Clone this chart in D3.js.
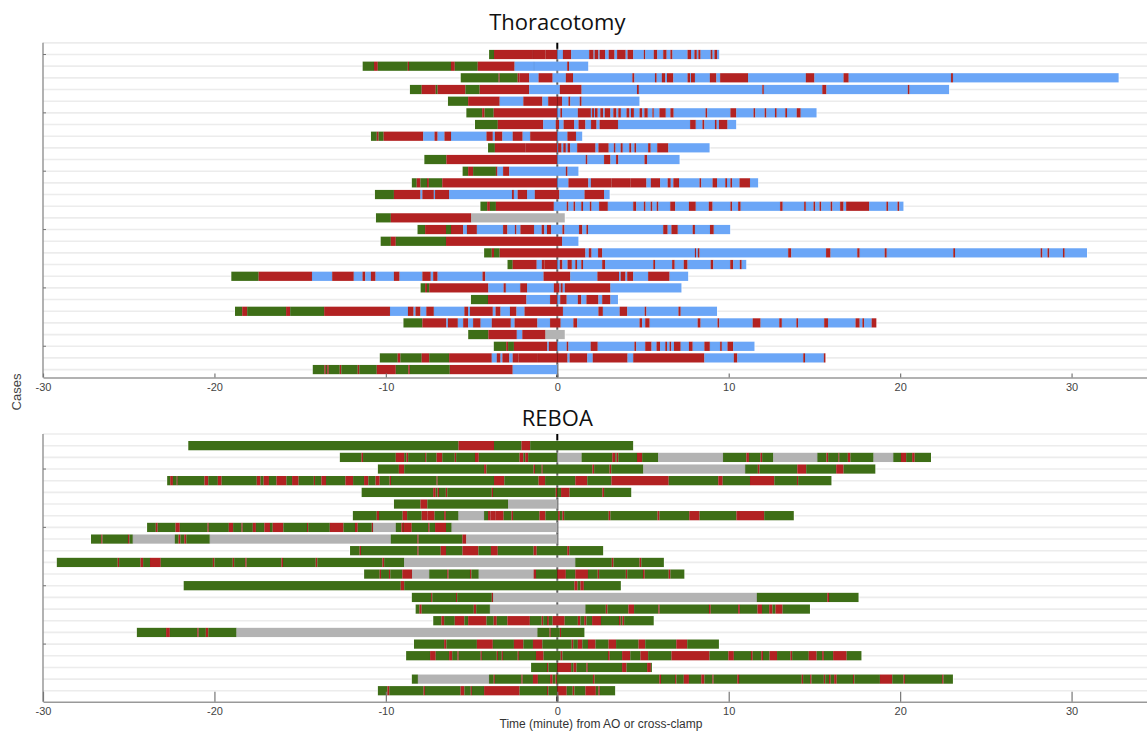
<!DOCTYPE html>
<html>
<head>
<meta charset="utf-8">
<title>Thoracotomy vs REBOA timeline</title>
<script src="https://d3js.org/d3.v7.min.js"></script>
<style>
  html, body { margin: 0; padding: 0; background: #fff; }
  svg { display: block; }
</style>
</head>
<body>
<script>

// phase codes: G = green, R = red, B = blue, S = grey
var phaseColors = { G: "#3e6e17", R: "#b22222", B: "#6ba6f7", S: "#b3b3b3" };

var xTicks = [-30, -20, -10, 0, 10, 20, 30];

// each case: [start, [phase, end], [phase, end], ...]  (minutes from AO / cross-clamp)
var thoracotomyCases = [
  [-3.98, ["G",-3.69],["R",-1.42],["R",-0.68],["R",0],["B",0.33],["R",0.81],["B",1.86],["R",2.12],["B",2.18],["R",2.4],["B",2.47],["R",2.79],["B",3.0],["R",3.34],["B",3.49],["R",3.99],["B",4.1],["R",4.43],["B",5.05],["R",5.13],["B",5.63],["R",5.83],["B",6.18],["R",6.38],["B",6.6],["R",6.72],["B",7.6],["R",7.8],["B",8.0],["R",8.14],["B",8.23],["R",8.36],["B",8.95],["R",9.06],["B",9.17],["R",9.32],["B",9.45]],
  [-11.36, ["G",-10.69],["R",-10.47],["G",-8.72],["R",-8.65],["G",-6.2],["R",-5.98],["G",-4.64],["R",-2.49],["B",-1.36],["B",0.58],["R",0.69],["B",1.81]],
  [-5.64, ["G",-3.42],["R",-3.36],["G",-2.31],["R",-2.2],["R",-1.64],["B",-1.09],["R",-0.27],["B",0.5],["R",0.92],["B",4.38],["R",4.5],["B",5.7],["R",5.8],["B",6.1],["R",6.3],["B",6.4],["R",6.77],["B",7.6],["R",7.75],["B",7.8],["R",8.03],["B",8.9],["R",9.28],["B",9.5],["R",11.13],["B",14.5],["R",15.0],["B",16.7],["R",17.0],["B",22.97],["R",23.08],["B",32.75]],
  [-8.6, ["G",-7.91],["R",-7.09],["G",-6.98],["R",-5.36],["G",-4.53],["R",-1.64],["B",0.15],["R",1.42],["B",4.65],["R",4.76],["B",11.96],["R",12.05],["B",15.46],["R",15.7],["B",20.45],["R",20.55],["B",22.86]],
  [-6.38, ["G",-5.2],["R",-3.36],["B",-1.98],["R",-0.87],["B",-0.53],["R",0],["R",0.28],["B",0.65],["R",0.76],["B",1.31],["R",1.42],["B",4.8]],
  [-5.31, ["G",-4.38],["R",-4.24],["G",-3.71],["R",0],["B",0.18],["R",0.28],["B",1.2],["R",1.96],["B",2.03],["R",2.14],["B",2.2],["R",2.36],["B",2.51],["R",2.68],["B",2.77],["R",3.1],["B",3.27],["R",3.45],["B",3.56],["R",3.71],["B",4.04],["R",4.21],["B",4.3],["R",4.47],["B",4.8],["R",4.96],["B",5.08],["R",5.28],["B",5.55],["R",5.63],["B",5.96],["R",6.33],["B",6.6],["R",6.79],["B",8.65],["R",8.75],["B",10.1],["R",10.44],["B",11.45],["R",11.55],["B",12.1],["R",12.2],["B",12.7],["R",12.8],["B",13.3],["R",13.4],["B",13.97],["R",14.2],["B",15.13]],
  [-4.8, ["G",-3.47],["R",-0.82],["B",-0.09],["R",0.1],["B",0.37],["R",0.98],["B",1.24],["R",1.64],["B",1.97],["R",2.29],["B",2.47],["R",3.54],["B",7.75],["R",8.08],["B",8.47],["R",8.58],["B",9.2],["R",9.3],["B",9.43],["R",9.93],["B",10.44]],
  [-10.87, ["G",-10.53],["R",-10.42],["G",-10.13],["R",-7.82],["B",-7.16],["R",-6.98],["B",-6.58],["R",-6.2],["B",-4.13],["R",-3.76],["B",-3.64],["R",-3.2],["B",-2.6],["R",-2.02],["B",-1.58],["R",0],["B",0.59],["R",1.09],["B",1.46]],
  [-4.04, ["G",-3.64],["R",-1.87],["R",0],["B",0.05],["R",0.25],["B",0.35],["R",0.5],["B",0.6],["R",0.75],["B",1.16],["R",2.23],["B",2.4],["R",3.0],["B",3.3],["R",3.4],["B",3.7],["R",3.82],["B",4.2],["R",4.32],["B",4.5],["R",4.6],["B",5.3],["R",5.45],["B",5.83],["R",6.48],["B",8.89]],
  [-7.76, ["G",-6.47],["R",0],["B",1.66],["R",1.76],["B",2.73],["R",3.1],["B",3.43],["R",3.56],["B",5.09],["R",5.24],["B",7.14]],
  [-5.53, ["G",-5.2],["R",-4.91],["G",-3.58],["R",-3.49],["B",-3.16],["R",-2.8],["B",0.5],["R",0.6],["B",1.24]],
  [-8.49, ["G",-8.2],["R",-7.98],["G",-7.6],["R",-7.49],["G",-6.71],["R",0],["B",0.65],["R",1.81],["B",1.96],["R",3.17],["R",4.26],["R",5.2],["B",5.46],["R",6.0],["B",6.44],["R",6.62],["B",6.77],["R",7.1],["B",8.3],["R",8.4],["B",9.06],["R",9.32],["B",9.8],["R",9.9],["B",10.1],["R",10.2],["B",10.63],["R",11.24],["B",11.72]],
  [-10.64, ["G",-9.53],["R",-7.98],["B",-7.87],["R",-7.2],["B",-7.13],["R",-6.31],["B",-2.64],["R",-2.53],["B",-2.31],["R",-1.76],["B",-1.31],["R",0.12],["B",1.59],["R",2.73],["B",3.06]],
  [-4.49, ["G",-4.09],["R",-3.93],["G",-3.58],["R",-0.2],["B",0.55],["R",0.65],["B",0.95],["R",1.05],["B",1.4],["R",1.5],["B",1.9],["R",2.0],["B",2.44],["R",2.95],["B",4.43],["R",4.6],["B",5.05],["R",5.15],["B",5.45],["R",5.55],["B",5.8],["R",5.9],["B",6.59],["R",6.88],["B",7.68],["R",8.08],["B",8.84],["R",9.06],["B",10.1],["R",10.2],["B",10.55],["R",10.7],["B",13.0],["R",13.15],["B",14.4],["R",14.5],["B",14.95],["R",15.05],["B",15.3],["R",15.4],["B",15.95],["R",16.05],["B",16.5],["R",16.7],["B",16.85],["R",18.19],["B",19.2],["R",19.3],["B",19.85],["R",19.95],["B",20.2]],
  [-10.58, ["G",-9.71],["R",-5.02],["S",0.44]],
  [-8.16, ["G",-7.71],["R",-6.49],["G",-6.2],["R",-5.49],["B",-5.27],["R",-4.69],["B",-3.16],["R",-2.91],["B",-2.47],["R",-2.38],["B",-2.15],["R",-1.36],["B",-0.91],["R",-0.76],["B",-0.6],["R",-0.36],["B",0.3],["R",0.42],["B",1.27],["R",1.46],["B",1.7],["R",1.8],["B",6.18],["R",6.44],["B",6.66],["R",7.03],["B",7.9],["R",8.03],["B",8.91],["R",9.13],["B",10.09]],
  [-10.31, ["G",-9.71],["R",-9.42],["G",-6.49],["R",0.28],["B",1.24]],
  [-4.27, ["G",-3.82],["R",-3.69],["G",-3.36],["R",1.64],["B",1.84],["R",2.0],["B",2.38],["R",2.62],["B",8.03],["R",8.1],["B",8.2],["R",8.3],["B",13.47],["R",13.65],["B",15.68],["R",15.94],["B",17.5],["R",17.64],["B",19.1],["R",19.22],["B",23.1],["R",23.2],["B",28.2],["R",28.3],["B",28.6],["R",28.7],["B",29.5],["R",29.6],["B",30.9]],
  [-2.91, ["G",-2.6],["R",-1.2],["B",-0.9],["R",-0.75],["R",0],["B",0.15],["R",0.3],["B",0.6],["R",0.85],["B",1.05],["R",1.15],["B",1.4],["R",1.5],["B",2.62],["R",2.79],["B",5.6],["R",5.7],["B",6.7],["R",6.85],["B",7.38],["R",7.6],["B",8.95],["R",9.1],["B",10.09],["R",10.26],["B",10.65],["R",10.76],["B",11.03]],
  [-19.02, ["G",-17.42],["R",-14.31],["B",-13.13],["R",-11.87],["B",-11.36],["R",-11.2],["B",-10.87],["R",-10.6],["B",-9.53],["R",-9.2],["B",-7.87],["R",-7.38],["B",-7.24],["R",-6.98],["B",-4.36],["R",-4.2],["B",-0.8],["R",0.76],["B",2.34],["R",3.6],["B",3.7],["R",3.98],["B",4.08],["R",4.43],["B",5.3],["R",6.55],["B",7.64]],
  [-7.98, ["G",-7.71],["R",-7.6],["G",-7.47],["R",-4.02],["B",-3.13],["R",-3.0],["B",-2.16],["R",-1.76],["B",-0.2],["R",0.13],["B",0.2],["R",0.32],["B",0.44],["R",3.1],["B",7.25]],
  [-5.04, ["G",-4.04],["R",-1.8],["B",-0.42],["R",0],["B",0.17],["R",0.55],["B",1.2],["R",1.4],["B",1.7],["R",2.4],["B",2.62],["R",3.1],["B",3.54]],
  [-18.8, ["G",-18.38],["R",-18.09],["G",-15.82],["R",-15.58],["G",-13.6],["R",-9.76],["B",-8.71],["R",-8.38],["B",-8.27],["R",-7.98],["B",-7.64],["R",-7.2],["B",-5.42],["R",-5.2],["B",-5.09],["R",-3.76],["B",-3.6],["R",-3.31],["B",-2.76],["R",-2.38],["B",-1.91],["R",0.33],["B",2.4],["R",2.66],["B",3.64],["R",4.08],["B",5.1],["R",5.2],["B",7.07],["R",7.2],["B",9.32]],
  [-8.98, ["G",-7.87],["R",-6.47],["B",-6.38],["R",-5.8],["B",-5.49],["R",-5.2],["B",-4.91],["R",-4.47],["B",-3.82],["R",-2.71],["B",-2.49],["R",-1.16],["B",-0.42],["R",0.2],["B",0.94],["R",1.16],["B",4.8],["R",4.95],["B",5.13],["R",5.39],["B",8.19],["R",8.36],["B",9.35],["R",9.45],["B",11.4],["R",11.86],["B",12.95],["R",13.1],["B",13.95],["R",14.05],["B",15.57],["R",15.79],["B",17.4],["R",17.64],["B",17.8],["R",17.9],["B",18.34],["R",18.62]],
  [-5.2, ["G",-4.02],["R",-2.36],["B",-2.04],["R",-0.69],["S",0.44]],
  [-3.71, ["G",-2.98],["R",-2.87],["G",-2.53],["R",-0.58],["B",-0.49],["R",0],["B",0.55],["R",0.65],["B",1.95],["R",2.36],["B",4.5],["R",4.6],["B",5.13],["R",5.5],["B",5.79],["R",6.0],["B",6.3],["R",6.4],["B",6.55],["R",6.65],["B",6.81],["R",7.2],["B",7.68],["R",7.9],["B",8.58],["R",8.9],["B",9.5],["R",9.6],["B",9.93],["R",10.26],["B",11.51]],
  [-10.36, ["G",-9.31],["R",-9.15],["G",-7.91],["R",-7.47],["G",-6.31],["R",-3.82],["B",-3.53],["R",-3.31],["B",-3.2],["R",-2.8],["B",-2.6],["R",-2.27],["R",-1.13],["R",0],["R",0.6],["B",0.72],["R",1.75],["B",2.07],["R",4.1],["B",4.43],["R",8.58],["B",10.3],["R",10.5],["B",14.35],["R",14.45],["B",15.55],["R",15.65]],
  [-14.27, ["G",-13.58],["R",-13.5],["G",-13.42],["R",-13.33],["G",-12.69],["R",-12.6],["G",-11.64],["R",-11.55],["G",-10.53],["R",-9.42],["G",-8.69],["R",-8.6],["G",-6.27],["R",-2.6],["B",0]]
];

var rebloaCases = [
  [-21.53, ["G",-5.76],["R",-3.69],["G",-2.09],["R",-1.58],["G",4.43]],
  [-12.69, ["G",-11.42],["R",-11.33],["G",-9.42],["R",-8.93],["G",-8.8],["R",-8.7],["G",-7.71],["R",-7.64],["G",-7.04],["R",-6.71],["G",-5.98],["R",-5.9],["G",-4.8],["R",-4.58],["G",-2.2],["R",-1.98],["G",-1.87],["R",-1.7],["G",0],["S",1.42],["G",3.21],["R",3.38],["G",3.46],["R",3.56],["G",4.65],["R",4.95],["G",5.89],["S",9.67],["G",11.03],["R",11.18],["G",11.85],["R",11.95],["G",12.6],["S",15.17],["G",15.7],["R",15.8],["G",16.4],["R",16.45],["G",16.95],["R",17.1],["G",18.45],["S",19.6],["G",20.05],["R",20.35],["G",20.7],["R",20.85],["G",21.8]],
  [-10.47, ["G",-9.24],["R",-8.93],["G",-4.27],["R",-4.13],["G",-1.38],["R",-1.3],["G",-0.91],["R",-0.85],["G",2.05],["R",2.15],["G",3.05],["R",3.15],["G",5.02],["S",10.96],["G",11.7],["R",11.8],["G",14.0],["R",14.52],["G",16.27],["R",16.7],["G",18.56]],
  [-22.76, ["G",-22.58],["R",-22.42],["G",-22.2],["R",-22.15],["G",-20.58],["R",-20.36],["G",-19.8],["R",-19.58],["G",-17.53],["R",-17.31],["G",-17.13],["R",-16.82],["G",-16.38],["R",-15.8],["G",-15.47],["R",-15.09],["G",-14.2],["R",-14.13],["G",-13.76],["R",-13.49],["G",-12.36],["R",-11.91],["G",-11.27],["R",-11.02],["G",-10.6],["R",-10.36],["G",-9.78],["R",-9.7],["G",-7.04],["R",-6.98],["G",-3.69],["R",-3.09],["G",-1.09],["R",-0.71],["G",1.05],["R",1.75],["G",3.16],["R",6.5],["G",9.39],["R",9.65],["G",11.24],["R",12.66],["G",13.98],["R",14.05],["G",16.0]],
  [-11.42, ["G",-7.24],["R",-7.09],["G",-6.98],["R",-6.9],["G",-6.5],["R",-6.42],["G",-3.82],["R",-3.75],["G",-0.09],["R",0],["G",0.22],["R",0.72],["G",2.63],["R",2.73],["G",4.32]],
  [-9.53, ["G",-7.98],["R",-7.58],["G",-2.87],["S",0]],
  [-11.93, ["G",-10.53],["R",-10.4],["G",-9.02],["R",-8.76],["G",-7.91],["R",-7.58],["R",-7.16],["G",-6.6],["R",-6.5],["G",-5.76],["S",-4.27],["G",-4.04],["R",-3.9],["R",-3.62],["R",-3.13],["G",-2.67],["R",-2.58],["G",-1.04],["R",-0.69],["G",0.05],["R",0.15],["G",0.3],["R",0.4],["G",3.0],["R",3.1],["G",5.85],["R",5.96],["G",7.7],["R",8.3],["G",10.45],["R",10.6],["R",12.07],["G",13.8]],
  [-23.93, ["G",-23.42],["R",-23.31],["G",-22.27],["R",-22.02],["G",-20.4],["R",-20.33],["G",-19.16],["R",-18.91],["G",-18.42],["R",-18.35],["G",-17.76],["R",-17.58],["G",-17.09],["R",-16.76],["G",-16.6],["R",-15.98],["G",-14.6],["R",-14.53],["G",-13.27],["R",-12.47],["G",-11.8],["R",-11.64],["G",-10.82],["R",-10.75],["S",-9.42],["G",-9.09],["R",-9.0],["G",-8.98],["R",-8.49],["G",-7.53],["R",-7.45],["G",-7.13],["R",-6.49],["G",-6.16],["S",0]],
  [-27.2, ["G",-26.6],["R",-26.53],["G",-25.04],["R",-24.96],["G",-24.76],["S",-22.31],["G",-22.09],["R",-21.98],["G",-21.76],["R",-21.64],["G",-20.27],["S",-9.71],["G",-8.16],["R",-8.09],["G",-5.53],["R",-5.31],["S",0]],
  [-12.09, ["G",-11.53],["R",-11.45],["G",-8.16],["R",-8.09],["G",-6.8],["R",-6.49],["G",-5.53],["R",-4.6],["G",-3.87],["R",-3.47],["G",-1.38],["R",-1.2],["G",0.58],["R",0.7],["G",2.68]],
  [-29.2, ["G",-25.64],["R",-25.56],["G",-24.31],["R",-24.16],["G",-23.76],["R",-23.13],["G",-20.09],["R",-20.0],["G",-18.93],["R",-18.85],["G",-18.2],["R",-18.12],["G",-16.09],["R",-16.0],["G",-14.09],["R",-14.0],["G",-10.2],["R",-10.1],["G",-8.93],["S",1.05],["G",3.18],["R",3.28],["G",4.8],["R",4.9],["G",6.22]],
  [-11.27, ["G",-10.36],["R",-10.28],["G",-9.82],["R",-9.74],["G",-9.04],["R",-8.47],["S",-7.47],["G",-6.42],["R",-6.34],["G",-5.09],["R",-5.01],["G",-4.58],["S",-1.38],["R",-1.24],["G",0],["R",0.5],["G",1.05],["R",1.79],["G",2.36],["R",2.44],["G",4.0],["R",4.08],["G",5.0],["R",5.1],["G",6.5],["R",6.6],["G",7.42]],
  [-21.8, ["G",-9.13],["R",-8.93],["G",1.0],["R",1.18],["G",1.35],["R",1.55],["G",3.71]],
  [-8.49, ["G",-7.36],["R",-7.29],["G",-5.91],["R",-5.84],["G",-3.82],["R",-3.75],["S",11.64],["G",15.75],["R",15.85],["G",17.58]],
  [-8.27, ["G",-8.04],["R",-7.91],["G",-4.87],["R",-4.73],["G",-3.93],["S",1.64],["G",2.83],["R",2.93],["G",4.15],["R",4.48],["G",5.9],["R",5.97],["G",8.85],["R",8.95],["G",10.55],["R",10.65],["G",11.68],["R",11.94],["G",12.36],["R",12.55],["G",12.73],["R",13.14],["G",14.74]],
  [-7.24, ["G",-6.76],["R",-6.6],["G",-5.98],["R",-5.42],["G",-5.2],["R",-4.13],["G",-3.71],["R",-3.53],["G",-2.91],["R",-1.6],["G",-0.91],["R",-0.82],["G",-0.6],["R",-0.49],["G",-0.27],["R",0.43],["G",1.2],["R",1.35],["G",1.57],["R",1.7],["G",2.03],["R",2.55],["G",3.6],["R",3.7],["G",3.8],["R",3.9],["G",5.63]],
  [-24.53, ["G",-22.82],["R",-22.6],["G",-21.0],["R",-20.92],["G",-20.5],["R",-20.36],["G",-18.71],["S",-1.16],["G",-0.45],["R",-0.38],["G",0.15],["R",0.22],["G",1.59]],
  [-8.36, ["G",-6.6],["R",-6.47],["G",-4.69],["R",-3.76],["G",-2.53],["R",-1.98],["G",-1.42],["R",-0.87],["G",0.84],["R",0.93],["G",1.2],["R",1.46],["G",1.79],["R",2.23],["G",2.99],["R",3.43],["G",4.74],["R",5.13],["G",6.94],["R",7.58],["G",9.43]],
  [-8.82, ["G",-7.42],["R",-7.09],["G",-6.31],["R",-6.13],["G",-5.82],["R",-5.75],["G",-4.47],["R",-4.4],["G",-3.53],["R",-3.46],["G",-3.24],["R",-3.17],["G",-2.31],["R",-2.24],["G",-1.24],["R",-0.8],["G",0.2],["R",0.3],["G",2.96],["R",3.06],["G",3.78],["R",4.26],["G",4.85],["R",5.3],["G",6.66],["R",8.88],["G",9.98],["R",10.3],["G",11.3],["R",11.4],["G",11.9],["R",12.0],["G",12.38],["R",12.82],["G",13.6],["R",13.7],["G",14.67],["R",15.13],["G",15.45],["R",15.55],["G",16.09],["R",16.88],["G",17.75]],
  [-1.53, ["G",-0.6],["R",-0.52],["G",0],["R",0.81],["G",0.95],["R",1.12],["G",1.7],["R",1.78],["G",3.78],["R",4.04],["G",5.24],["R",5.46],["G",5.52]],
  [-8.49, ["G",-8.13],["S",-3.98],["G",-3.71],["R",-3.64],["G",-2.09],["R",-2.02],["G",-1.42],["R",-1.13],["G",-0.42],["R",-0.27],["G",-0.1],["R",-0.02],["G",2.08],["R",2.18],["G",5.95],["R",6.05],["G",6.87],["R",6.95],["G",7.38],["R",7.68],["G",8.4],["R",8.58],["G",9.05],["R",9.12],["G",10.5],["R",10.6],["G",14.26],["R",14.34],["G",14.75],["R",14.83],["G",15.55],["R",15.63],["G",15.85],["R",15.95],["G",16.15],["R",16.3],["G",17.25],["R",17.33],["G",18.82],["R",19.54],["G",20.2],["R",20.28],["G",22.45],["R",22.53],["G",23.08]],
  [-10.47, ["G",-9.91],["R",-9.8],["G",-7.8],["R",-7.72],["G",-5.64],["R",-5.42],["G",-5.05],["R",-4.98],["G",-4.27],["R",-2.2],["G",-0.6],["R",-0.52],["G",0],["R",0.55],["G",0.9],["R",1.0],["G",1.64],["R",2.25],["G",2.4],["R",2.48],["G",3.38]]
];

var W = 1147, H = 731;
var rowStep = 11.67, barH = 9.4;

var svg = d3.select("body").append("svg")
    .attr("width", W).attr("height", H);

var x = d3.scaleLinear().domain([-30, 34.4]).range([43, 1147]);

drawPanel(thoracotomyCases, "Thoracotomy", { titleY: 30, firstRow: 54.5, axisY: 377.5, tickLen: 4, yTicks: [0, 5, 10, 15, 20, 25] });
drawPanel(rebloaCases, "REBOA", { titleY: 426, firstRow: 445.7, axisY: 701.7, tickLen: 10, yTicks: [2, 7, 12, 17] });

function toSegments(d) {
	var prev = d[0];
	return d.slice(1).map(function(s) {
		var seg = { phase: s[0], from: prev, to: s[1] };
		prev = s[1];
		return seg;
	});
}

function drawPanel(cases, title, o) {
	var n = cases.length;
	var y = d3.scaleLinear().domain([0, n - 1]).range([o.firstRow, o.firstRow + (n - 1) * rowStep]);
	var g = svg.append("g");
	var top = y(-1);

	// grid
	g.selectAll("line.grid").data(d3.range(-1, n)).enter()
		.append("line").attr("class", "grid")
		.attr("x1", x.range()[0]).attr("x2", W)
		.attr("y1", function(d){ return y(d) }).attr("y2", function(d){ return y(d) })
		.style("stroke", "#ececec").style("stroke-width", 1.6);

	// zero line
	g.append("line")
		.attr("x1", x(0)).attr("x2", x(0))
		.attr("y1", top).attr("y2", o.axisY)
		.style("stroke", "#000").style("stroke-width", 2);

	// bars
	var rows = g.selectAll("g.case").data(cases).enter()
		.append("g").attr("class", "case")
		.attr("transform", function(d, i){ return "translate(0," + (y(i) - barH / 2) + ")" });

	rows.selectAll("rect.seg").data(toSegments).enter()
		.append("rect").attr("class", "seg")
		.attr("x", function(d){ return x(d.from) })
		.attr("width", function(d){ return Math.max(1, x(d.to) - x(d.from)) })
		.attr("height", barH)
		.style("fill", function(d){ return phaseColors[d.phase] });

	// faint seams between neighbouring segments
	rows.selectAll("line.seam").data(function(d){ return toSegments(d).slice(1) }).enter()
		.append("line").attr("class", "seam")
		.attr("x1", function(d){ return x(d.from) }).attr("x2", function(d){ return x(d.from) })
		.attr("y1", 0).attr("y2", barH)
		.style("stroke", "rgba(0,0,0,0.12)").style("stroke-width", 0.6);

	// light outline round each bar
	rows.append("rect")
		.attr("x", function(d){ return x(d[0]) - 0.5 })
		.attr("y", -0.5)
		.attr("width", function(d){ return x(d[d.length - 1][1]) - x(d[0]) + 1 })
		.attr("height", barH + 1)
		.style("fill", "none")
		.style("stroke", "rgba(255,255,255,0.55)")
		.style("stroke-width", 1);

	// left axis
	g.append("line")
		.attr("x1", x.range()[0]).attr("x2", x.range()[0])
		.attr("y1", top).attr("y2", o.axisY)
		.style("stroke", "#999").style("stroke-width", 1.5);
	g.selectAll("line.ytick").data(o.yTicks).enter()
		.append("line").attr("class", "ytick")
		.attr("x1", x.range()[0]).attr("x2", x.range()[0] + 3)
		.attr("y1", function(d){ return y(d) }).attr("y2", function(d){ return y(d) })
		.style("stroke", "#777").style("stroke-width", 1);

	// bottom axis
	var ax = g.append("g")
		.attr("transform", "translate(0," + o.axisY + ")")
		.call(d3.axisBottom(x).tickValues(xTicks)
			.tickFormat(function(d){ return String(d) })
			.tickSizeInner(-o.tickLen).tickSizeOuter(0).tickPadding(6));
	ax.select(".domain").style("stroke", "#999").style("stroke-width", 1.5);
	ax.selectAll(".tick line").style("stroke", "#777").style("stroke-width", 1.2);
	ax.selectAll(".tick text")
		.style("font-family", "'Liberation Sans', Arial, sans-serif")
		.style("font-size", "11px").style("fill", "#444");

	// title
	svg.append("text")
		.attr("x", x(0)).attr("y", o.titleY)
		.attr("text-anchor", "middle")
		.style("font-family", "'Open Sans', 'Noto Sans', sans-serif")
		.style("font-size", "22px").style("fill", "#111")
		.text(title);
}

svg.append("text")
	.attr("transform", "translate(21,392) rotate(-90)")
	.attr("text-anchor", "middle")
	.style("font-family", "'Liberation Sans', Arial, sans-serif")
	.style("font-size", "13px").style("fill", "#444")
	.text("Cases");

svg.append("text")
	.attr("x", 601).attr("y", 728)
	.attr("text-anchor", "middle")
	.style("font-family", "'Liberation Sans', Arial, sans-serif")
	.style("font-size", "12px").style("fill", "#333")
	.text("Time (minute) from AO or cross-clamp");

</script>
</body>
</html>
